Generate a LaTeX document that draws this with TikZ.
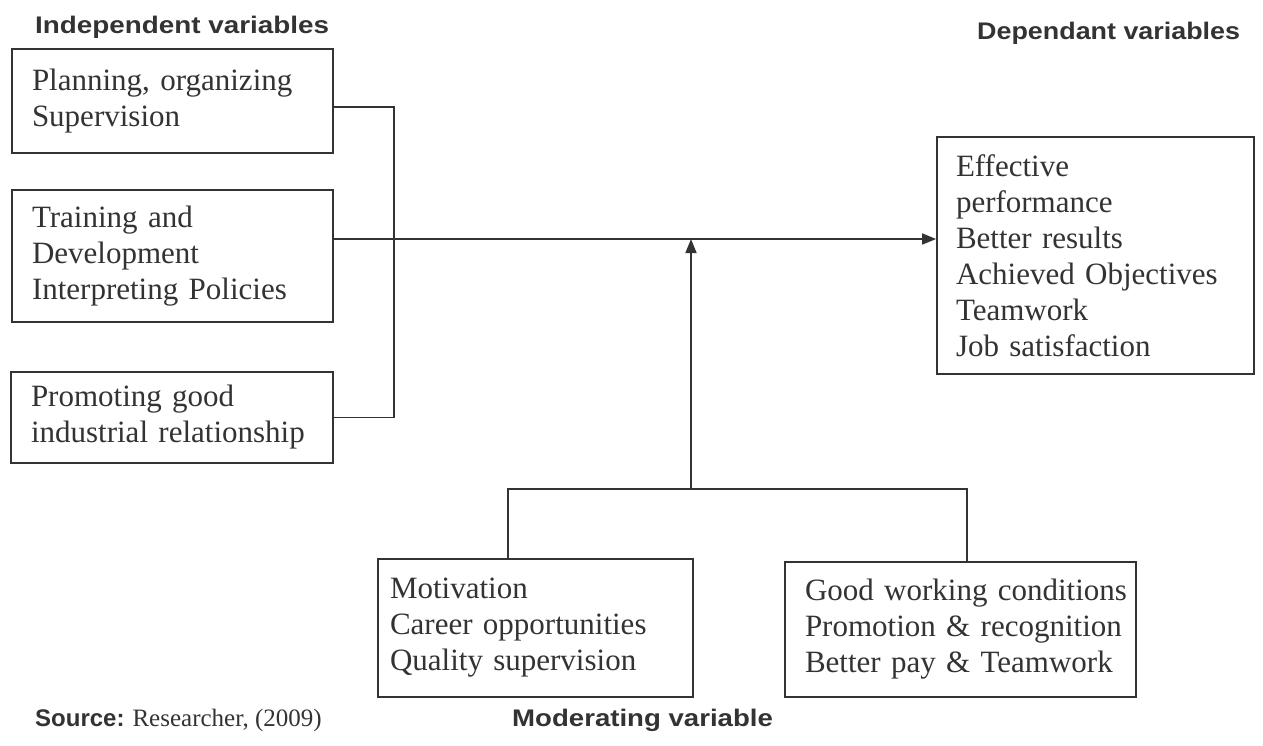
\documentclass[tikz,border=0pt]{standalone}
\usepackage{fontspec}
\setmainfont{Liberation Serif}
\newfontfamily\headfont{Liberation Sans}
\usetikzlibrary{arrows.meta}
\definecolor{ink}{HTML}{333333}
\hyphenpenalty=10000
\exhyphenpenalty=10000
\hbadness=10000
\hfuzz=50pt
\begin{document}
\begin{tikzpicture}[x=1pt,y=-1pt,
  box/.style={draw=ink, line width=1.8pt, text=ink, align=left,
    font=\fontsize{31}{36}\selectfont, inner ysep=0pt},
  conn/.style={draw=ink, line width=1.6pt},
  tip/.style={-{Triangle[length=14pt,width=11pt]}},
  head/.style={text=ink, font=\headfont\fontsize{24}{28}\selectfont\bfseries, inner sep=0pt}]
\useasboundingbox[fill=white] (0,0) rectangle (1263,745);

% independent variable boxes
\node[box, minimum width=321pt, minimum height=104pt, text width=281pt, inner xsep=20pt]
  (b1) at (172.5,101) {Planning, organizing\\Supervision};
\node[box, minimum width=321pt, minimum height=132pt, text width=281pt, inner xsep=20pt]
  (b2) at (172.5,256) {Training and\\Development\\Interpreting Policies};
\node[box, minimum width=322pt, minimum height=91pt, text width=282pt, inner xsep=20pt]
  (b3) at (172,417.5) {Promoting good\\industrial relationship};

% dependent variable box
\node[box, minimum width=317pt, minimum height=237pt, text width=279pt, inner xsep=19pt]
  (dv) at (1095.5,255.5) {Effective\\performance\\Better results\\Achieved Objectives\\Teamwork\\Job satisfaction};

% moderating variable boxes
\node[box, minimum width=315pt, minimum height=138pt, text width=291pt, inner xsep=12pt]
  (m1) at (535.5,628) {Motivation\\Career opportunities\\Quality supervision};
\node[box, minimum width=351pt, minimum height=135pt, text width=311pt, inner xsep=20pt]
  (m2) at (960.5,629.5) {\mbox{Good working conditions}\\\mbox{Promotion \& recognition}\\\mbox{Better pay \& Teamwork}};

% headings
\node[head, anchor=west] (hiv) at (35,27) {\scalebox{1.16}[1]{Independent variables}};
\node[head, anchor=west] (hdv) at (977,33) {\scalebox{1.12}[1]{Dependant variables}};
\node[head, anchor=west] (hmv) at (512,720) {\scalebox{1.15}[1]{Moderating variable}};
\node[anchor=west, text=ink, inner sep=0pt, font=\fontsize{25}{28}\selectfont] (src) at (35,720)
  {{\headfont\fontsize{24}{28}\selectfont\bfseries Source:}\hspace{8pt}Researcher, (2009)};

% connectors
\coordinate (vr) at (394,0);
\coordinate (ay) at (0,239);
\coordinate (hl) at (508,489);
\coordinate (hr) at (967,489);
\coordinate (hm) at (691,489);

\draw[conn] ([yshift=-6pt]b1.east) -| (vr |- b3.east) -- (b3.east);
\draw[conn, tip] (b2.east |- ay) -- (dv.west |- ay);
\draw[conn] (hl |- m1.north) -- (hl) -- (hr) -- (hr |- m2.north);
\draw[conn, tip] (hm) -- (hm |- ay);
\end{tikzpicture}
\end{document}
